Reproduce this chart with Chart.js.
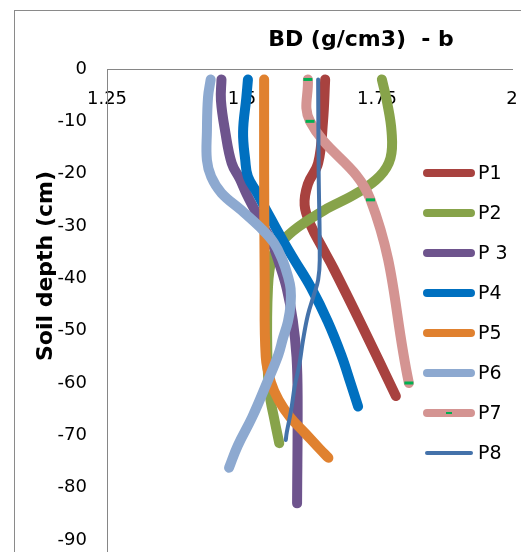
<!DOCTYPE html>
<html>
<head>
<meta charset="utf-8">
<title>BD (g/cm3) - b</title>
<script src="https://cdn.jsdelivr.net/npm/chart.js@4.4.1/dist/chart.umd.min.js"></script>
<style>
    html, body { margin: 0; padding: 0; background: #fff; }
    #bdChart { display: block; }
</style>
</head>
<body>
<canvas id="bdChart" width="521" height="552"></canvas>
<script>
// Series labels and colours (legend order)
const seriesLabels = ['P1', 'P2', 'P 3', 'P4', 'P5', 'P6', 'P7', 'P8'];
const seriesColors = ['#A8423F', '#87A34A', '#6E548D', '#0070C0', '#E0812F', '#8DA9D0', '#D49492', '#4472AA'];

// Axis ticks
const bdTicks = [1.25, 1.5, 1.75, 2];
const depthTicks = [0, -10, -20, -30, -40, -50, -60, -70, -80, -90];

// Soil depth (cm) and bulk density (g/cm3) for each profile
const p1Depth = [-2, -10, -18, -22, -26, -30, -34, -38, -49, -62.5];
const p1Bd = [1.654, 1.650, 1.641, 1.622, 1.616, 1.628, 1.648, 1.669, 1.722, 1.785];

const p2Depth = [-2, -6, -12, -17, -20.5, -23.7, -27, -30.2, -33, -36, -42, -55, -62, -67, -71.5];
const p2Bd = [1.759, 1.768, 1.777, 1.775, 1.755, 1.713, 1.652, 1.604, 1.574, 1.556, 1.548, 1.547, 1.551, 1.560, 1.569];

const p3Depth = [-2, -6, -12, -18, -21, -24, -27, -30, -33, -37.5, -42, -48, -55, -63, -83];
const p3Bd = [1.462, 1.461, 1.469, 1.481, 1.496, 1.509, 1.524, 1.539, 1.555, 1.570, 1.583, 1.594, 1.601, 1.603, 1.602];

const p4Depth = [-2, -5.5, -12, -17.4, -20.6, -23.7, -27, -30.2, -33.2, -36.5, -41.8, -48.3, -54.7, -60, -64.5];
const p4Bd = [1.511, 1.508, 1.502, 1.506, 1.511, 1.528, 1.545, 1.562, 1.578, 1.597, 1.628, 1.659, 1.684, 1.701, 1.715];

const p5Depth = [-2, -20, -40, -55, -60, -63.3, -66.5, -69.6, -72.5, -74.3];
const p5Bd = [1.541, 1.541, 1.542, 1.544, 1.554, 1.568, 1.589, 1.617, 1.643, 1.660];

const p6Depth = [-2, -5.5, -12, -17.4, -20.6, -23.7, -27, -30.2, -33.2, -36.5, -39.6, -42, -45, -48.3, -51.4, -54.7, -60, -66.5, -72, -76.2];
const p6Bd = [1.442, 1.437, 1.435, 1.435, 1.443, 1.462, 1.499, 1.533, 1.559, 1.575, 1.585, 1.590, 1.590, 1.585, 1.576, 1.567, 1.546, 1.519, 1.492, 1.476];

const p7Depth = [-2, -10, -25, -60];
const p7Bd = [1.622, 1.626, 1.738, 1.809];

const p8Depth = [-2, -20, -36.5, -40.3, -43.2, -47, -51.8, -56.6, -60.4, -65.2, -69.4, -70.9];
const p8Bd = [1.641, 1.642, 1.644, 1.641, 1.633, 1.622, 1.613, 1.606, 1.598, 1.591, 1.583, 1.581];

const depthSeries = [p1Depth, p2Depth, p3Depth, p4Depth, p5Depth, p6Depth, p7Depth, p8Depth];
const bdSeries = [p1Bd, p2Bd, p3Bd, p4Bd, p5Bd, p6Bd, p7Bd, p8Bd];

const FONT = "'DejaVu Sans', 'Liberation Sans', sans-serif";
const MARKER_GREEN = '#00B050';

/**
 * Build a scatter dataset (drawn as a smooth line) for one profile
 * @param {number} i - Index of the profile
 * @returns {Object} Chart.js dataset
 */
function buildDataset(i) {
    const thin = i === 7;
    const marked = i === 6;
    return {
        label: seriesLabels[i],
        data: depthSeries[i].map((d, k) => ({ x: bdSeries[i][k], y: d })),
        showLine: true,
        borderColor: seriesColors[i],
        backgroundColor: seriesColors[i],
        borderWidth: thin ? 4 : 10,
        borderCapStyle: 'round',
        borderJoinStyle: 'round',
        tension: 0.4,
        pointRadius: marked ? 4.5 : 0,
        pointHoverRadius: marked ? 4.5 : 0,
        pointStyle: 'line',
        pointBorderColor: MARKER_GREEN,
        pointBorderWidth: 3,
        order: seriesLabels.length - i
    };
}

/**
 * Frame, title, axis title and legend drawn around the plot
 */
const decorPlugin = {
    id: 'decor',
    beforeDraw(chart) {
        const ctx = chart.ctx;
        ctx.save();
        ctx.fillStyle = '#fff';
        ctx.fillRect(0, 0, chart.width, chart.height);
        ctx.strokeStyle = '#8a8a8a';
        ctx.lineWidth = 1;
        ctx.strokeRect(14.5, 10.5, chart.width, chart.height);
        ctx.restore();
    },
    afterDraw(chart) {
        const ctx = chart.ctx;
        const area = chart.chartArea;
        ctx.save();

        // vertical axis keeps going below -90
        ctx.strokeStyle = '#868686';
        ctx.lineWidth = 1;
        ctx.beginPath();
        ctx.moveTo(Math.round(area.left) + 0.5, area.bottom);
        ctx.lineTo(Math.round(area.left) + 0.5, chart.height);
        ctx.stroke();

        // chart title
        ctx.fillStyle = '#000';
        ctx.font = 'bold 22px ' + FONT;
        ctx.textAlign = 'center';
        ctx.textBaseline = 'alphabetic';
        ctx.fillText('BD (g/cm3)  - b', 361, 46);

        // vertical axis title
        ctx.save();
        ctx.translate(52, 266);
        ctx.rotate(-Math.PI / 2);
        ctx.fillText('Soil depth (cm)', 0, 0);
        ctx.restore();

        // legend
        ctx.font = '19px ' + FONT;
        ctx.textAlign = 'left';
        ctx.textBaseline = 'middle';
        ctx.lineCap = 'round';
        chart.data.datasets.forEach((ds, i) => {
            const y = 173 + i * 40;
            ctx.strokeStyle = ds.borderColor;
            ctx.lineWidth = ds.borderWidth === 4 ? 4 : 8;
            ctx.beginPath();
            ctx.moveTo(427, y);
            ctx.lineTo(471, y);
            ctx.stroke();
            if (ds.pointRadius > 0) {
                ctx.strokeStyle = MARKER_GREEN;
                ctx.lineWidth = 2;
                ctx.lineCap = 'butt';
                ctx.beginPath();
                ctx.moveTo(446, y);
                ctx.lineTo(452, y);
                ctx.stroke();
                ctx.lineCap = 'round';
            }
            ctx.fillStyle = '#000';
            ctx.fillText(ds.label, 478, y + 1);
        });
        ctx.restore();
    }
};

const ctx = document.getElementById('bdChart').getContext('2d');

new Chart(ctx, {
    type: 'scatter',
    data: {
        datasets: seriesLabels.map((_, i) => buildDataset(i))
    },
    options: {
        responsive: false,
        animation: false,
        devicePixelRatio: 1,
        events: [],
        layout: {
            padding: { left: 47, top: 39, right: 9, bottom: 12 }
        },
        plugins: {
            legend: { display: false },
            title: { display: false },
            tooltip: { enabled: false }
        },
        scales: {
            x: {
                type: 'linear',
                position: 'top',
                min: bdTicks[0],
                max: bdTicks[bdTicks.length - 1],
                afterBuildTicks: scale => {
                    scale.ticks = bdTicks.map(v => ({ value: v }));
                },
                afterFit: scale => {
                    scale.height = 30;
                    scale.paddingLeft = 0;
                    scale.paddingRight = 0;
                },
                grid: { display: false, drawTicks: false },
                border: { display: true, color: '#868686', width: 1 },
                ticks: {
                    mirror: true,
                    padding: 20,
                    maxRotation: 0,
                    autoSkip: false,
                    color: '#000',
                    font: { family: FONT, size: 18 },
                    callback: value => String(value)
                }
            },
            y: {
                type: 'linear',
                min: depthTicks[depthTicks.length - 1],
                max: depthTicks[0],
                afterBuildTicks: scale => {
                    scale.ticks = depthTicks.slice().reverse().map(v => ({ value: v }));
                },
                afterFit: scale => {
                    scale.width = 60;
                    scale.paddingTop = 0;
                    scale.paddingBottom = 0;
                },
                grid: { display: false, drawTicks: false },
                border: { display: true, color: '#868686', width: 1 },
                ticks: {
                    padding: 20,
                    autoSkip: false,
                    color: '#000',
                    font: { family: FONT, size: 18 },
                    callback: value => String(value)
                }
            }
        }
    },
    plugins: [decorPlugin]
});
</script>
</body>
</html>
